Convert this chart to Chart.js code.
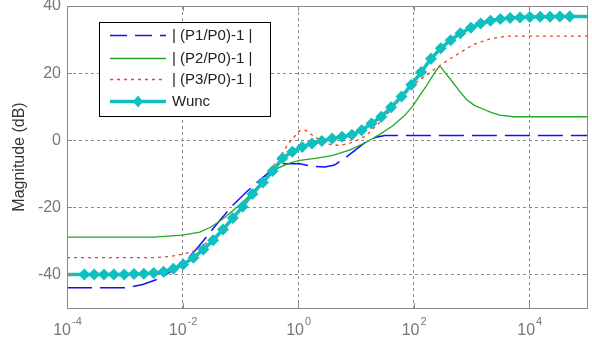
<!DOCTYPE html>
<html>
<head>
<meta charset="utf-8">
<script src="https://cdn.jsdelivr.net/npm/chart.js@4"></script>
<style>
  body { margin: 0; background: #fff; }
</style>
</head>
<body>
<canvas id="magChart" width="592" height="347"></canvas>
<script>
// frequency decades (log10) and magnitudes
const p1Exp = [-4, -3, -2.86, -2.69, -2.46, -2.3, -2.0, -1.8, -1.65, -1.4, -1.13, -0.9, -0.7, -0.5, -0.27, 0.03, 0.25, 0.46, 0.63, 0.85, 1.0, 1.15, 1.35, 1.5, 5];
const p1Mag = [-44, -44, -43.6, -43, -41.6, -40.2, -36.8, -33.2, -30.2, -24.8, -19.4, -15.5, -12.4, -9.5, -7.0, -7.0, -7.8, -8.0, -7.4, -4.8, -2.8, -0.8, 0.9, 1.4, 1.4];

const p2Exp = [-4, -2.5, -2.0, -1.7, -1.5, -1.3, -1.1, -0.9, -0.7, -0.5, -0.35, -0.15, 0.03, 0.3, 0.6, 0.9, 1.18, 1.4, 1.64, 1.85, 1.99, 2.1, 2.22, 2.35, 2.43, 2.47, 2.55, 2.68, 2.8, 2.91, 3.05, 3.2, 3.35, 3.49, 3.72, 5];
const p2Mag = [-28.9, -28.9, -28.3, -27.4, -25.8, -23.4, -20.6, -17.5, -13.8, -10.5, -8.3, -6.8, -6.0, -5.4, -4.5, -2.9, -0.6, 1.6, 4.3, 7.5, 10.3, 13.2, 16.2, 19.8, 21.8, 21.8, 20, 17.2, 14.5, 12.2, 10.4, 9.3, 8.2, 7.5, 7.0, 7.0];

const p3Exp = [-4, -2.5, -2.2, -2.0, -1.8, -1.6, -1.3, -1.0, -0.7, -0.5, -0.32, -0.15, 0.03, 0.14, 0.29, 0.49, 0.6, 0.75, 0.95, 1.18, 1.47, 1.76, 2.05, 2.33, 2.57, 2.8, 3.03, 3.32, 3.6, 5];
const p3Mag = [-35, -35, -34.6, -34.0, -33.0, -30.8, -26.6, -20.3, -14, -9.5, -5.0, -0.6, 2.9, 2.9, 0.9, -0.8, -1.5, -1.5, -0.6, 1.4, 6.3, 12.2, 17.2, 20.8, 23.6, 26.1, 28.5, 30.2, 31.0, 31.0];

// Wunc: first and last entries are the line ends (no marker)
const wuncExp = [-4, -3.70, -3.53, -3.36, -3.19, -3.01, -2.84, -2.67, -2.50, -2.33, -2.16, -1.99, -1.81, -1.64, -1.47, -1.30, -1.13, -0.96, -0.79, -0.61, -0.44, -0.27, -0.10, 0.07, 0.24, 0.41, 0.59, 0.76, 0.93, 1.10, 1.27, 1.44, 1.61, 1.79, 1.96, 2.13, 2.30, 2.47, 2.64, 2.81, 2.99, 3.16, 3.33, 3.50, 3.67, 3.84, 4.01, 4.19, 4.36, 4.53, 4.70, 5];
const wuncMag = [-40, -40.0, -40.0, -40.0, -40.0, -40.0, -39.9, -39.8, -39.6, -39.2, -38.3, -37.0, -35.0, -32.6, -29.8, -26.6, -23.2, -19.8, -16.0, -12.6, -9.2, -5.4, -3.4, -2.0, -1.0, -0.2, 0.5, 1.0, 1.6, 3.0, 5.0, 7.0, 9.8, 13.0, 16.5, 20.3, 24.3, 27.4, 29.8, 31.9, 33.5, 34.8, 35.6, 36.1, 36.4, 36.6, 36.7, 36.8, 36.8, 36.9, 36.9, 36.9];

const xTickExp = [-4, -2, 0, 2, 4];
const yTicks = [-40, -20, 0, 20, 40];
const seriesNames = ['| (P1/P0)-1 |', '| (P2/P0)-1 |', '| (P3/P0)-1 |', 'Wunc'];

const colors = { p1: '#1010ff', p2: '#22a822', p3: '#f0401e', wunc: '#10bfbf' };
const gridGrey = '#8a8a8a';

function toPoints(exps, mags) {
    return exps.map((e, i) => ({ x: Math.pow(10, e), y: mags[i] }));
}

// frame, inner tick marks, x labels with exponents, legend box
const matlabLook = {
    id: 'matlabLook',
    afterDraw(chart) {
        const ctx = chart.ctx;
        const a = chart.chartArea;
        const xs = chart.scales.x, ys = chart.scales.y;
        ctx.save();
        ctx.strokeStyle = gridGrey;
        ctx.lineWidth = 1;
        ctx.setLineDash([]);
        ctx.strokeRect(Math.round(a.left) + 0.5, Math.round(a.top) + 0.5,
            Math.round(a.right - a.left), Math.round(a.bottom - a.top));
        ctx.beginPath();
        xTickExp.forEach(e => {
            const px = Math.round(xs.getPixelForValue(Math.pow(10, e))) + 0.5;
            ctx.moveTo(px, a.bottom); ctx.lineTo(px, a.bottom - 5);
            ctx.moveTo(px, a.top); ctx.lineTo(px, a.top + 5);
        });
        yTicks.forEach(v => {
            const py = Math.round(ys.getPixelForValue(v)) + 0.5;
            ctx.moveTo(a.left, py); ctx.lineTo(a.left + 5, py);
            ctx.moveTo(a.right, py); ctx.lineTo(a.right - 5, py);
        });
        ctx.stroke();

        // x tick labels 10^n
        ctx.fillStyle = '#777';
        ctx.textBaseline = 'alphabetic';
        ctx.textAlign = 'left';
        xTickExp.forEach(e => {
            const px = xs.getPixelForValue(Math.pow(10, e));
            const base = '10', sup = String(e);
            ctx.font = '16px "Liberation Sans", Arial, sans-serif';
            const wb = ctx.measureText(base).width;
            ctx.font = '11px "Liberation Sans", Arial, sans-serif';
            const ws = ctx.measureText(sup).width;
            const x0 = px - (wb + ws) / 2;
            ctx.font = '16px "Liberation Sans", Arial, sans-serif';
            ctx.fillText(base, x0, a.bottom + 27);
            ctx.font = '11px "Liberation Sans", Arial, sans-serif';
            ctx.fillText(sup, x0 + wb + 1, a.bottom + 17);
        });

        // legend
        const lx = 99, ly = 22, lw = 171, lh = 94;
        ctx.fillStyle = '#fff';
        ctx.fillRect(lx, ly, lw, lh);
        ctx.strokeStyle = '#000';
        ctx.strokeRect(lx + 0.5, ly + 0.5, lw, lh);
        const rows = [35, 58, 79, 101];
        const styles = [
            { c: colors.p1, w: 1.5, d: [17, 8] },
            { c: colors.p2, w: 1.3, d: [] },
            { c: colors.p3, w: 1.3, d: [3, 4] },
            { c: colors.wunc, w: 3.5, d: [] }
        ];
        rows.forEach((y, i) => {
            const s = styles[i];
            ctx.strokeStyle = s.c;
            ctx.lineWidth = s.w;
            ctx.setLineDash(s.d);
            ctx.beginPath();
            ctx.moveTo(110, y + 0.5); ctx.lineTo(166, y + 0.5);
            ctx.stroke();
            ctx.setLineDash([]);
            if (i === 3) {
                ctx.fillStyle = s.c;
                ctx.beginPath();
                ctx.moveTo(138 - 5, y + 0.5); ctx.lineTo(138, y - 5.5);
                ctx.lineTo(138 + 5, y + 0.5); ctx.lineTo(138, y + 6.5);
                ctx.closePath(); ctx.fill();
            }
            ctx.fillStyle = '#222';
            ctx.font = '15px "Liberation Sans", Arial, sans-serif';
            ctx.textBaseline = 'middle';
            ctx.fillText(seriesNames[i], 172, y + 1);
        });
        ctx.restore();
    }
};

function createMagChart() {
    const ctx = document.getElementById('magChart').getContext('2d');
    const lastW = wuncExp.length - 1;
    new Chart(ctx, {
        type: 'line',
        data: {
            datasets: [
                {
                    label: seriesNames[3],
                    data: toPoints(wuncExp, wuncMag),
                    borderColor: colors.wunc,
                    backgroundColor: colors.wunc,
                    borderWidth: 3.5,
                    pointStyle: 'rectRot',
                    pointRadius: wuncExp.map((e, i) => (i === 0 || i === lastW) ? 0 : 6),
                    pointBorderWidth: 0,
                    order: 0
                },
                {
                    label: seriesNames[2],
                    data: toPoints(p3Exp, p3Mag),
                    borderColor: colors.p3,
                    borderWidth: 1.3,
                    borderDash: [3, 4],
                    pointRadius: 0,
                    order: 1
                },
                {
                    label: seriesNames[1],
                    data: toPoints(p2Exp, p2Mag),
                    borderColor: colors.p2,
                    borderWidth: 1.3,
                    pointRadius: 0,
                    order: 2
                },
                {
                    label: seriesNames[0],
                    data: toPoints(p1Exp, p1Mag),
                    borderColor: colors.p1,
                    borderWidth: 1.5,
                    borderDash: [25, 8],
                    pointRadius: 0,
                    order: 3
                }
            ]
        },
        options: {
            responsive: false,
            animation: false,
            devicePixelRatio: 1,
            layout: { padding: { top: 6, right: 5, left: 0, bottom: 0 } },
            plugins: { legend: { display: false }, tooltip: { enabled: false } },
            scales: {
                x: {
                    type: 'logarithmic',
                    min: 1e-4,
                    max: 1e5,
                    afterBuildTicks: s => { s.ticks = xTickExp.map(e => ({ value: Math.pow(10, e) })); },
                    afterFit: s => { s.height = 39; s.paddingLeft = 0; s.paddingRight = 0; },
                    ticks: { display: false },
                    grid: { color: gridGrey, drawTicks: false },
                    border: { display: false, dash: [3, 3] }
                },
                y: {
                    min: -50,
                    max: 40,
                    afterBuildTicks: s => { s.ticks = yTicks.map(v => ({ value: v })); },
                    afterFit: s => { s.width = 67; s.paddingTop = 0; s.paddingBottom = 0; },
                    ticks: {
                        color: '#777',
                        padding: 6,
                        font: { family: '"Liberation Sans", Arial, sans-serif', size: 16 }
                    },
                    grid: { color: gridGrey, drawTicks: false },
                    border: { display: false, dash: [3, 3] },
                    title: {
                        display: true,
                        text: 'Magnitude (dB)',
                        color: '#333',
                        padding: { top: 10, bottom: 0 },
                        font: { family: '"Liberation Sans", Arial, sans-serif', size: 16 }
                    }
                }
            }
        },
        plugins: [matlabLook]
    });
}

window.onload = function() {
    createMagChart();
};
</script>
</body>
</html>
